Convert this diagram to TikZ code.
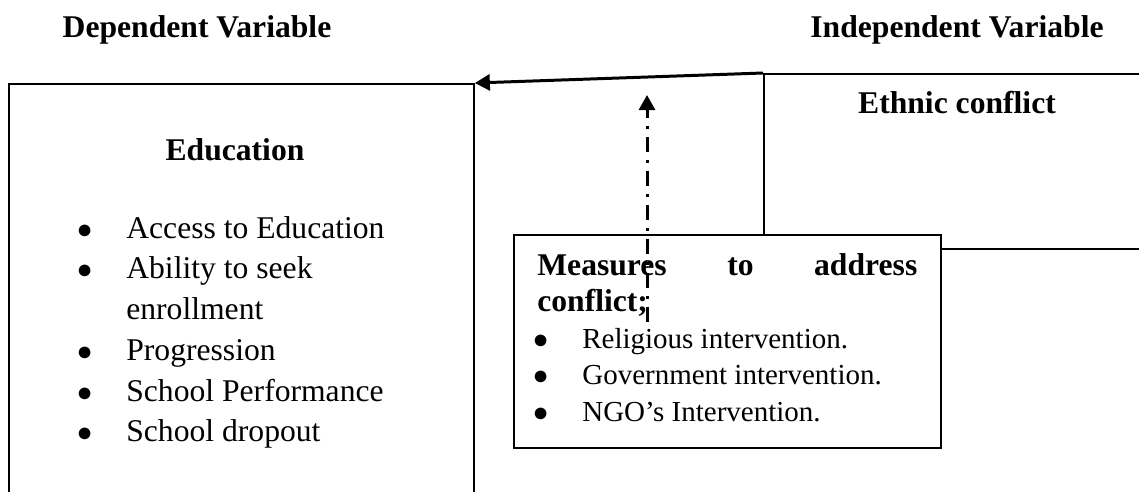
\documentclass[tikz,border=0pt]{standalone}
\usepackage{fontspec}
\setmainfont{Liberation Serif}
\usetikzlibrary{arrows.meta}
\newcommand\listdot{$\bullet$}
\begin{document}
\begin{tikzpicture}[x=0.02cm,y=-0.02cm]
    \tikzset{box/.style=  {draw,
                           rectangle,
                           line width=1.1pt,
                           anchor=north west,
                           inner sep=0pt},
             head/.style= {anchor=base,
                           inner sep=0pt,
                           font=\fontsize{18}{21}\selectfont\bfseries},
             list/.style= {anchor=base west,
                           inner sep=0pt},
             link/.style= {line width=1.7pt,
                           -{Triangle[length=0.3cm,width=0.32cm]}},
            }
    \useasboundingbox (0,0) rectangle (1139,491);
    \clip (0,0) rectangle (1139,491);
    \path
    (8,83)      node[box, minimum width=9.3cm, minimum height=9cm](edu) {}
    (763,73)    node[box, minimum width=8.5cm, minimum height=3.5cm](eth) {}
    (513,234)   node[box, fill=white, minimum width=8.54cm, minimum height=4.26cm](mea) {}
    (197,37)    node[head](dep) {Dependent Variable}
    (957,37)    node[head](ind) {Independent Variable}
    (235,160)   node[head](edut) {Education}
    (957,113)   node[head](etht) {Ethnic conflict}
    (77,238)    node[list](edul) {\fontsize{18}{23.2}\selectfont
                \begin{tabular}[t]{@{}p{0.98cm}@{}l@{}}
                \listdot & Access to Education\\
                \listdot & Ability to seek\\
                         & enrollment\\
                \listdot & Progression\\
                \listdot & School Performance\\
                \listdot & School dropout
                \end{tabular}}
    (537,275)   node[list](meal) {\fontsize{16.5}{20.8}\selectfont
                \begin{tabular}[t]{@{}p{0.9cm}@{}l@{}}
                \multicolumn{2}{@{}l@{}}{\fontsize{18}{20.8}\selectfont\bfseries
                  \makebox[7.6cm][s]{Measures to address}}\\
                \multicolumn{2}{@{}l@{}}{\fontsize{18}{20.8}\selectfont\bfseries conflict;}\\
                \hspace*{-0.08cm}\listdot & Religious intervention.\\
                \hspace*{-0.08cm}\listdot & Government intervention.\\
                \hspace*{-0.08cm}\listdot & NGO's Intervention.
                \end{tabular}}
    ;
    \coordinate (dbot) at (647,322);
    \coordinate (dtop) at (647,95);
    \draw[link] (eth.north west) -- (edu.north east);
    \draw[link, dash pattern=on 0.3cm off 0.16cm on 0.06cm off 0.16cm] (dbot) -- (dtop);
\end{tikzpicture}
\end{document}
